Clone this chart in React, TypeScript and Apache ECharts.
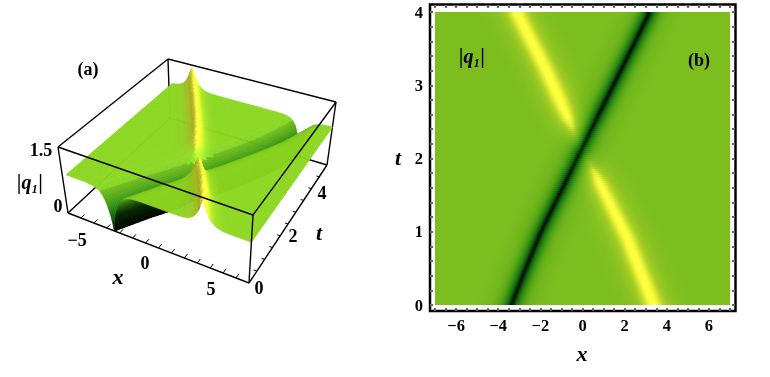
import React, { useEffect, useRef } from "react";
import * as echarts from "echarts";

// Ridge tracks: t -> x
const darkT = [0, 0.5, 1, 1.5, 2, 2.5, 3, 3.5, 4, 5];
const darkX = [-3.4, -2.72, -2.0, -1.15, -0.29, 0.56, 1.43, 2.3, 3.16, 4.5];
const lowBrightT = [0, 0.93, 1.66, 1.8, 2.0, 2.2];
const lowBrightX = [3.4, 2.13, 0.86, 0.62, 0.25, 0.05];
const lowBrightA = [1, 0.98, 0.9, 0.7, 0.3, 0];
const upBrightT = [2.1, 2.3, 2.45, 2.56, 2.8, 3.25, 4, 5];
const upBrightX = [-0.1, -0.33, -0.5, -0.67, -1.05, -1.76, -3.1, -5];
const upBrightA = [0, 0.35, 0.65, 0.85, 1, 1, 1, 1];
// Cross-section of the two kinds of band (offset in x -> relative depth/height)
const darkOff = [0, 0.05, 0.1, 0.2, 0.3, 0.4, 0.6, 0.8, 1, 1.4, 2];
const darkDip = [1, 0.93, 0.8, 0.62, 0.49, 0.38, 0.22, 0.12, 0.07, 0.02, 0];
const brightOff = [0, 0.1, 0.2, 0.3, 0.5, 0.7, 1, 1.4, 1.8];
const brightRise = [1, 0.88, 0.68, 0.52, 0.32, 0.19, 0.08, 0.02, 0];
const BASE = 0.9;
const PEAK = 0.55;
// Colour scale
const scaleZ = [0, 0.1, 0.27, 0.5, 0.7, 0.9, 1.05, 1.2, 1.35, 1.45];
const scaleC = [[0, 0, 0], [10, 42, 6], [13, 90, 12], [45, 138, 18], [90, 168, 24], [125, 190, 31], [165, 205, 38], [225, 238, 50], [255, 255, 64], [255, 255, 64]];
// Axis texts
const xTickLabels3d = ["−5", "0", "5"];
const tTickLabels3d = ["0", "2", "4"];

function lerp(xs: number[], ys: number[], x: number) {
  if (x <= xs[0]) return ys[0];
  for (let i = 1; i < xs.length; i++) {
    if (x <= xs[i]) {
      const f = (x - xs[i - 1]) / (xs[i] - xs[i - 1]);
      return ys[i - 1] + f * (ys[i] - ys[i - 1]);
    }
  }
  return ys[ys.length - 1];
}
function height(x: number, t: number) {
  let z = BASE * (1 - lerp(darkOff, darkDip, Math.abs(x - lerp(darkT, darkX, t))));
  if (t <= 2.2) z += PEAK * lerp(lowBrightT, lowBrightA, t) * lerp(brightOff, brightRise, Math.abs(x - lerp(lowBrightT, lowBrightX, t)));
  if (t >= 2.1) z += PEAK * lerp(upBrightT, upBrightA, t) * lerp(brightOff, brightRise, Math.abs(x - lerp(upBrightT, upBrightX, t)));
  return Math.max(0, z);
}
function colour(z: number, light = 1) {
  const c = [0, 1, 2].map((k) => lerp(scaleZ, scaleC.map((s) => s[k]), z) * light);
  return `rgb(${c.map((v) => Math.min(255, Math.round(v))).join(",")})`;
}

// Box corners of panel (a): [u][v] bottom and top
const B = [[[68, 213], [170, 118]], [[249, 283], [327, 165]]];
const T = [[[58, 147], [168, 59]], [[253, 215], [336, 102]]];
function project(x: number, t: number, z: number): number[] {
  const u = (x + 7) / 14, v = t / 5, w = z / 1.5;
  return [0, 1].map((k) => {
    const bot = (1 - u) * ((1 - v) * B[0][0][k] + v * B[0][1][k]) + u * ((1 - v) * B[1][0][k] + v * B[1][1][k]);
    const top = (1 - u) * ((1 - v) * T[0][0][k] + v * T[0][1][k]) + u * ((1 - v) * T[1][0][k] + v * T[1][1][k]);
    return bot * (1 - w) + top * w;
  });
}

const ROWS = 100;
const rowsSurface: number[] = [];
for (let i = ROWS; i > 0; i--) rowsSurface.push(i);
const rowsImage: number[] = [];
for (let i = 0; i < 147; i++) rowsImage.push(i);
// Mesh columns for the surface, as offsets from the dark ridge
const colOffsets: number[] = [];
for (let o = -12; o < -0.6; o += 0.12) colOffsets.push(o);
for (let o = -0.6; o < 0.6; o += 0.05) colOffsets.push(o);
for (let o = 0.6; o <= 12; o += 0.12) colOffsets.push(o);
const X_MIN = -6.7;
const X_MAX = 7;

const backEdges = [
  [-7, 0, 0, -7, 5, 0], [-7, 5, 0, 7, 5, 0], [7, 5, 0, 7, 0, 0],
  [-7, 5, 0, -7, 5, 1.5], [7, 5, 0, 7, 5, 1.5], [-7, 0, 1.5, -7, 5, 1.5], [-7, 5, 1.5, 7, 5, 1.5],
];
const frontEdges = [
  [-7, 0, 0, 7, 0, 0], [-7, 0, 0, -7, 0, 1.5], [7, 0, 0, 7, 0, 1.5],
  [-7, 0, 1.5, 7, 0, 1.5], [7, 0, 1.5, 7, 5, 1.5],
];
const xTicks3d = [-6, -5, -4, -3, -2, -1, 0, 1, 2, 3, 4, 5, 6];
const tTicks3d = [0.5, 1, 1.5, 2, 2.5, 3, 3.5, 4, 4.5];

const serif = "'Liberation Serif', serif";
function label(text: string, x: number, y: number, size = 18, italic = false) {
  return {
    type: "text", x, y, z: 20, silent: true,
    style: { text, fontFamily: serif, fontWeight: "bold", fontStyle: italic ? "italic" : "normal", fontSize: size, fill: "#000", align: "center", verticalAlign: "middle" },
  };
}

export default function App() {
  const ref = useRef<HTMLDivElement>(null);
  useEffect(() => {
    const chart = echarts.init(ref.current!, undefined, { renderer: "svg" });
    const edge = (e: number[], api: any, w = 1.4) => {
      const a = api.coord(project(e[0], e[1], e[2]));
      const b = api.coord(project(e[3], e[4], e[5]));
      return { type: "line", shape: { x1: a[0], y1: a[1], x2: b[0], y2: b[1] }, style: { stroke: "#000", lineWidth: w } };
    };
    const hiddenAxis = { show: false };
    const clampX = (x: number) => Math.max(X_MIN, Math.min(X_MAX, x));
    const noLine = { show: false, onZero: false };
    const tick = { inside: true, length: 3, lineStyle: { color: "#666", width: 2 } };
    chart.setOption({
      animation: false,
      grid: [
        { left: 0, top: 0, width: 770, height: 377 },
        { left: 435, top: 12, width: 295, height: 293 },
      ],
      xAxis: [
        { gridIndex: 0, type: "value", min: 0, max: 770, ...hiddenAxis },
        {
          gridIndex: 1, type: "value", min: -7, max: 7, interval: 0.5, offset: 6, position: "bottom",
          axisLine: noLine, splitLine: { show: false }, axisTick: tick, z: 12,
          axisLabel: {
            margin: 6, showMinLabel: true, fontFamily: serif, fontWeight: "bold", fontSize: 16.5, color: "#000",
            formatter: (v: number) => (Number.isInteger(v) && v % 2 === 0 ? String(v).replace("-", "−") : ""),
          },
        },
        {
          gridIndex: 1, type: "value", min: -7, max: 7, interval: 0.5, offset: 7, position: "top",
          axisLine: noLine, splitLine: { show: false }, axisLabel: { show: false }, axisTick: tick, z: 12,
        },
      ],
      yAxis: [
        { gridIndex: 0, type: "value", min: 0, max: 377, inverse: true, ...hiddenAxis },
        {
          gridIndex: 1, type: "value", min: 0, max: 4, interval: 0.2, offset: 5, position: "left",
          axisLine: noLine, splitLine: { show: false }, axisTick: tick, z: 12,
          axisLabel: {
            margin: 7, fontFamily: serif, fontWeight: "bold", fontSize: 16.5, color: "#000",
            formatter: (v: number) => (Math.abs(v - Math.round(v)) < 1e-6 ? String(Math.round(v)) : ""),
          },
        },
        {
          gridIndex: 1, type: "value", min: 0, max: 4, interval: 0.2, offset: 5, position: "right",
          axisLine: noLine, splitLine: { show: false }, axisLabel: { show: false }, axisTick: tick, z: 12,
        },
      ],
      series: [
        {
          // Panel (b): one gradient strip per image row
          type: "custom", xAxisIndex: 1, yAxisIndex: 1, silent: true, clip: true, z: 2,
          data: rowsImage.map((r) => [0, r]),
          renderItem: (p: any, api: any) => {
            const r = rowsImage[p.dataIndex];
            const t0 = (r / rowsImage.length) * 4;
            const t1 = ((r + 1) / rowsImage.length) * 4;
            const a = api.coord([-7, t1]);
            const b = api.coord([7, t0]);
            const stops = [];
            for (let i = 0; i <= 140; i++) {
              const x = -7 + i * 0.1;
              stops.push({ offset: i / 140, color: colour(height(x, (t0 + t1) / 2)) });
            }
            return {
              type: "rect",
              shape: { x: a[0], y: a[1], width: b[0] - a[0], height: b[1] - a[1] + (r === 0 ? 0 : 1.5) },
              style: { fill: new echarts.graphic.LinearGradient(0, 0, 1, 0, stops) },
            };
          },
        },
        {
          type: "custom", xAxisIndex: 0, yAxisIndex: 0, silent: true, clip: false, z: 1,
          data: backEdges.map(() => [0, 0]),
          renderItem: (p: any, api: any) => edge(backEdges[p.dataIndex], api),
        },
        {
          // Panel (a): surface, painted row by row from the far side; mesh follows the dark ridge
          type: "custom", xAxisIndex: 0, yAxisIndex: 0, silent: true, clip: false, z: 2,
          data: rowsSurface.map((r) => [0, r]),
          renderItem: (p: any, api: any) => {
            const r = rowsSurface[p.dataIndex];
            const dt = 5 / ROWS;
            const t1 = r * dt, t0 = (r - 1) * dt;
            const r0 = lerp(darkT, darkX, t0), r1 = lerp(darkT, darkX, t1);
            const children = [];
            for (let i = 0; i + 1 < colOffsets.length; i++) {
              const a0 = clampX(r0 + colOffsets[i]), b0 = clampX(r0 + colOffsets[i + 1]);
              const a1 = clampX(r1 + colOffsets[i]), b1 = clampX(r1 + colOffsets[i + 1]);
              if (a0 === b0 && a1 === b1) continue;
              const xc = (a0 + b0 + a1 + b1) / 4, tc = (t0 + t1) / 2;
              const e = 0.1;
              const zc = height(xc, tc);
              const sx = (height(xc + e, tc) - height(xc - e, tc)) / (2 * e);
              const st = (height(xc, tc + 0.05) - height(xc, tc - 0.05)) / 0.1;
              let light = Math.max(0.35, Math.min(1.42, 1.13 - (sx > 0 ? 0.55 : 0.2) * sx + 0.03 * st));
              if (zc < 0.8) light = Math.min(light, 1.05);
              const fill = colour(zc, light);
              const pts = [project(a0, t0, height(a0, t0)), project(b0, t0, height(b0, t0)), project(b1, t1, height(b1, t1)), project(a1, t1, height(a1, t1))].map((q) => api.coord(q));
              children.push({ type: "polygon", shape: { points: pts }, style: { fill, stroke: fill, lineWidth: 0.5 } });
            }
            return { type: "group", children };
          },
        },
        {
          type: "custom", xAxisIndex: 0, yAxisIndex: 0, silent: true, clip: false, z: 3,
          data: frontEdges.map(() => [0, 0]),
          renderItem: (p: any, api: any) => edge(frontEdges[p.dataIndex], api),
        },
        {
          type: "custom", xAxisIndex: 0, yAxisIndex: 0, silent: true, clip: false, z: 3,
          data: xTicks3d.map((v) => [v, 0]),
          renderItem: (p: any, api: any) => edge([xTicks3d[p.dataIndex], 0, 0, xTicks3d[p.dataIndex], 0.18, 0], api, 1),
        },
        {
          type: "custom", xAxisIndex: 0, yAxisIndex: 0, silent: true, clip: false, z: 3,
          data: tTicks3d.map((v) => [v, 0]),
          renderItem: (p: any, api: any) => edge([7, tTicks3d[p.dataIndex], 0, 6.75, tTicks3d[p.dataIndex], 0], api, 1),
        },
      ],
      graphic: [
        { type: "rect", z: 10, silent: true, shape: { x: 430, y: 4.5, width: 305.5, height: 306.5 }, style: { fill: "none", stroke: "#000", lineWidth: 2.5 } },
        label("(a)", 88, 69),
        label("1.5", 41, 150),
        label("|q₁|", 30, 182, 20, true),
        label("0", 58, 206),
        label(xTickLabels3d[0], 77, 240),
        label(xTickLabels3d[1], 145, 263),
        label(xTickLabels3d[2], 211, 289),
        label("x", 118, 276, 22, true),
        label(tTickLabels3d[0], 259, 288),
        label(tTickLabels3d[1], 293, 236),
        label(tTickLabels3d[2], 322, 193),
        label("t", 319, 232, 22, true),
        label("t", 398, 157, 22, true),
        label("x", 582, 353, 22, true),
        label("|q₁|", 472, 56, 20, true),
        label("(b)", 699, 60),
      ],
    });
    return () => chart.dispose();
  }, []);
  return <div ref={ref} style={{ position: "fixed", left: 0, top: 0, width: 770, height: 377 }} />;
}
